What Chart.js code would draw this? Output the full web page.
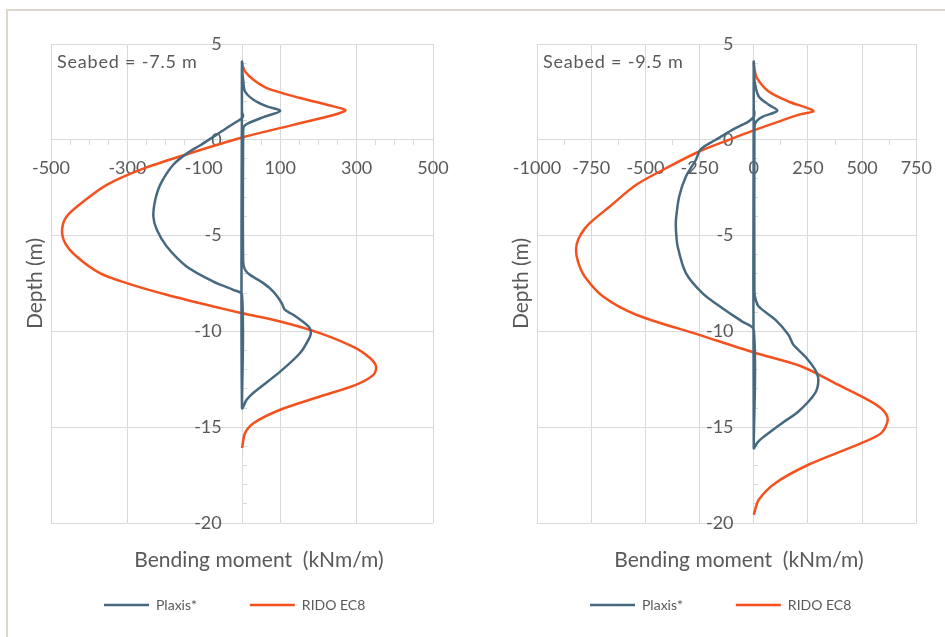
<!DOCTYPE html>
<html>
<head>
<meta charset="utf-8">
<script src="https://cdn.jsdelivr.net/npm/chart.js@4.4.0/dist/chart.umd.min.js"></script>
<style>
body{margin:0;background:#fff;}
#wrap{position:relative;width:945px;height:637px;overflow:hidden;background:#fff;}
#frame{position:absolute;left:6px;top:9px;width:960px;height:700px;border-left:2px solid #DDD7CC;border-top:2px solid #DDD7CC;}
.box{position:absolute;top:0;}
</style>
</head>
<body>
<div id="wrap">
<div id="frame"></div>
<div class="box" style="left:0"><canvas id="left" width="472" height="637"></canvas></div>
<div class="box" style="left:472px"><canvas id="right" width="473" height="637"></canvas></div>
</div>
<script>
// seabed -7.5 m (left)
let plaxisM1 = [0, 1, 3, 8, 30, 65, 100, 56, 17, 5, 3, 3, 8, 21, 56, 82, 104, 112, 134, 174, 180, 178, 152, 100, 30, 12, 0,
                0, 0, 3, -2, -30, -70, -110, -140, -180, -213, -227, -232, -223, -197, -145, -75, -23, 0, 0];
let plaxisD1 = [4.0, 3.5, 3.13, 2.52, 2.09, 1.74, 1.51, 1.18, 0.87, 0.70, 0.4, -6.35, -6.78, -7.05, -7.48, -7.92, -8.52, -8.87, -9.13, -9.74, -10.0, -10.27, -11.13, -12.1, -13.2, -13.57, -14.0,
                4.0, 1.45, 1.25, 1.1, 0.75, 0.22, -0.3, -0.65, -1.3, -2.3, -3.13, -4.0, -4.7, -5.57, -6.61, -7.4, -7.83, -8.09, -14.0];
let ridoM1 = [0, 2, 8, 30, 65, 152, 222, 270, 134, 0, -136, -255, -354, -415, -459, -471, -463, -433, -372, -302, -197, -75, 0, 100, 204, 298, 335, 351, 344, 298, 204, 100, 30, 8, 0];
let ridoD1 = [4.05, 3.85, 3.57, 3.13, 2.70, 2.18, 1.83, 1.51, 0.78, 0.12, -0.70, -1.48, -2.35, -3.22, -4.0, -4.7, -5.39, -6.09, -6.96, -7.48, -8.09, -8.70, -9.05, -9.48, -10.09, -10.87, -11.39, -11.83, -12.27, -12.79, -13.40, -14.09, -14.79, -15.31, -16.09];

// seabed -9.5 m (right)
let plaxisM2 = [0, 2, 5, 23, 69, 109, 40, 15, 5, 3, 3, 8, 23, 99, 160, 183, 237, 283, 298, 283, 206, 130, 38, 15, 0,
                0, 0, 3, 0, -23, -99, -175, -245, -267, -313, -344, -359, -359, -351, -313, -237, -145, -54, 0, 0];
let plaxisD2 = [4.0, 3.5, 2.96, 2.26, 1.83, 1.52, 1.2, 1.0, 0.8, 0.5, -7.9, -8.3, -8.7, -9.39, -10.18, -10.7, -11.31, -12.0, -12.53, -13.22, -14.18, -14.79, -15.57, -15.83, -16.09,
                4.0, 1.6, 1.4, 1.2, 0.96, 0.52, 0.0, -0.5, -1.04, -1.91, -2.96, -4.18, -4.7, -5.57, -6.96, -8.0, -8.79, -9.48, -9.92, -16.09];
let ridoM2 = [0, 3, 15, 69, 160, 275, 206, 0, -115, -252, -389, -542, -664, -740, -778, -810, -820, -810, -780, -695, -542, -252, 0, 221, 374, 527, 595, 618, 588, 496, 252, 99, 23, 0];
let ridoD2 = [4.05, 3.7, 3.22, 2.52, 2.0, 1.51, 1.30, 0.49, 0.0, -0.61, -1.39, -2.35, -3.48, -4.18, -4.61, -5.2, -5.74, -6.4, -7.13, -8.18, -9.13, -10.18, -11.1, -11.83, -12.7, -13.57, -14.09, -14.61, -15.31, -15.83, -16.96, -17.92, -18.79, -19.57];

let yTicks = [5, 0, -5, -10, -15, -20];
let xTicks1 = [-500, -300, -100, 100, 300, 500];
let xTicks2 = [-1000, -750, -500, -250, 0, 250, 500, 750];

const BLUE = '#46697F', ORANGE = '#F4511E', GRID = '#D9D9D9', TXT = '#595959';
const NONE = 'rgba(0,0,0,0)';

function toPoints(m, d) {
    return m.map((v, i) => ({x: v, y: d[i]}));
}

// seabed note, rotated depth title, small nudge of the x title
const notes = {
    id: 'notes',
    afterLayout(chart, args, opts) {
        let t = chart.titleBlock;
        if (t) { t.left += opts.titleShift; t.right += opts.titleShift; }
    },
    afterDraw(chart, args, opts) {
        let ctx = chart.ctx, a = chart.chartArea;
        ctx.save();
        ctx.fillStyle = TXT;
        ctx.textBaseline = 'middle';
        ctx.font = '18px Lato';
        ctx.letterSpacing = '0.8px';
        ctx.fillText(opts.seabed, a.left + 6, a.top + 18);
        ctx.letterSpacing = '0px';
        ctx.font = '21px Lato';
        ctx.translate(a.left - 16, (a.top + a.bottom) / 2);
        ctx.rotate(-Math.PI / 2);
        ctx.textAlign = 'center';
        ctx.fillText('Depth (m)', 0, 0);
        ctx.restore();
    }
};

function makeChart(id, p) {
    return new Chart(document.getElementById(id), {
        type: 'scatter',
        data: {
            datasets: [
                {label: 'Plaxis*', data: toPoints(p.plaxisM, p.plaxisD), showLine: true, borderColor: BLUE, backgroundColor: BLUE,
                 borderWidth: 2.5, pointRadius: 0, tension: 0.3},
                {label: 'RIDO EC8', data: toPoints(p.ridoM, p.ridoD), showLine: true, borderColor: ORANGE, backgroundColor: ORANGE,
                 borderWidth: 2.5, pointRadius: 0, tension: 0.3}
            ]
        },
        options: {
            responsive: false,
            animation: false,
            layout: {padding: {left: p.padL, right: p.padR, top: 44, bottom: 15}},
            scales: {
                x: {
                    type: 'linear', min: p.xMin, max: p.xMax, position: {y: 0},
                    border: {color: GRID, width: 1},
                    grid: {
                        color: c => (p.xGrid.includes(c.tick.value) ? GRID : NONE),
                        tickColor: GRID, tickLength: 5
                    },
                    ticks: {
                        stepSize: p.xStep, autoSkip: false, maxRotation: 0, padding: 13, color: TXT,
                        font: {family: 'Lato', size: 18},
                        callback: v => (p.xTicks.includes(v) ? String(v) : '')
                    }
                },
                y: {
                    type: 'linear', min: -20, max: 5, position: {x: 0},
                    border: {color: GRID, width: 1},
                    grid: {
                        color: c => (yTicks.includes(c.tick.value) ? GRID : NONE),
                        tickColor: GRID, tickLength: -5
                    },
                    ticks: {
                        stepSize: 1, autoSkip: false, color: TXT,
                        font: {family: 'Lato', size: 18},
                        callback: v => (yTicks.includes(v) ? v + '\u2002\u2002\u2009' : '')
                    }
                }
            },
            plugins: {
                title: {
                    display: true, position: 'bottom', weight: 500, text: 'Bending moment  (kNm/m)', color: TXT,
                    font: {family: 'Lato', size: 21, weight: 'normal', lineHeight: 1.2},
                    padding: {top: 25, bottom: -28.2}
                },
                legend: {
                    position: 'bottom', align: 'start',
                    labels: {
                        usePointStyle: true, pointStyle: 'line', pointStyleWidth: 45, color: TXT,
                        font: {family: 'Lato', size: 14}, padding: 53
                    }
                },
                tooltip: {enabled: false},
                notes: {seabed: p.seabed, titleShift: p.titleShift}
            }
        },
        plugins: [notes]
    });
}

makeChart('left', {
    plaxisM: plaxisM1, plaxisD: plaxisD1, ridoM: ridoM1, ridoD: ridoD1,
    xMin: -500, xMax: 500, xStep: 50, xTicks: xTicks1, xGrid: [-500, -300, 100, 300, 500],
    padL: 51, padR: 39, seabed: 'Seabed = -7.5 m', titleShift: 17
});
makeChart('right', {
    plaxisM: plaxisM2, plaxisD: plaxisD2, ridoM: ridoM2, ridoD: ridoD2,
    xMin: -1000, xMax: 750, xStep: 125, xTicks: xTicks2, xGrid: xTicks2,
    padL: 65, padR: 26, seabed: 'Seabed = -9.5 m', titleShift: 11
});
</script>
</body>
</html>
